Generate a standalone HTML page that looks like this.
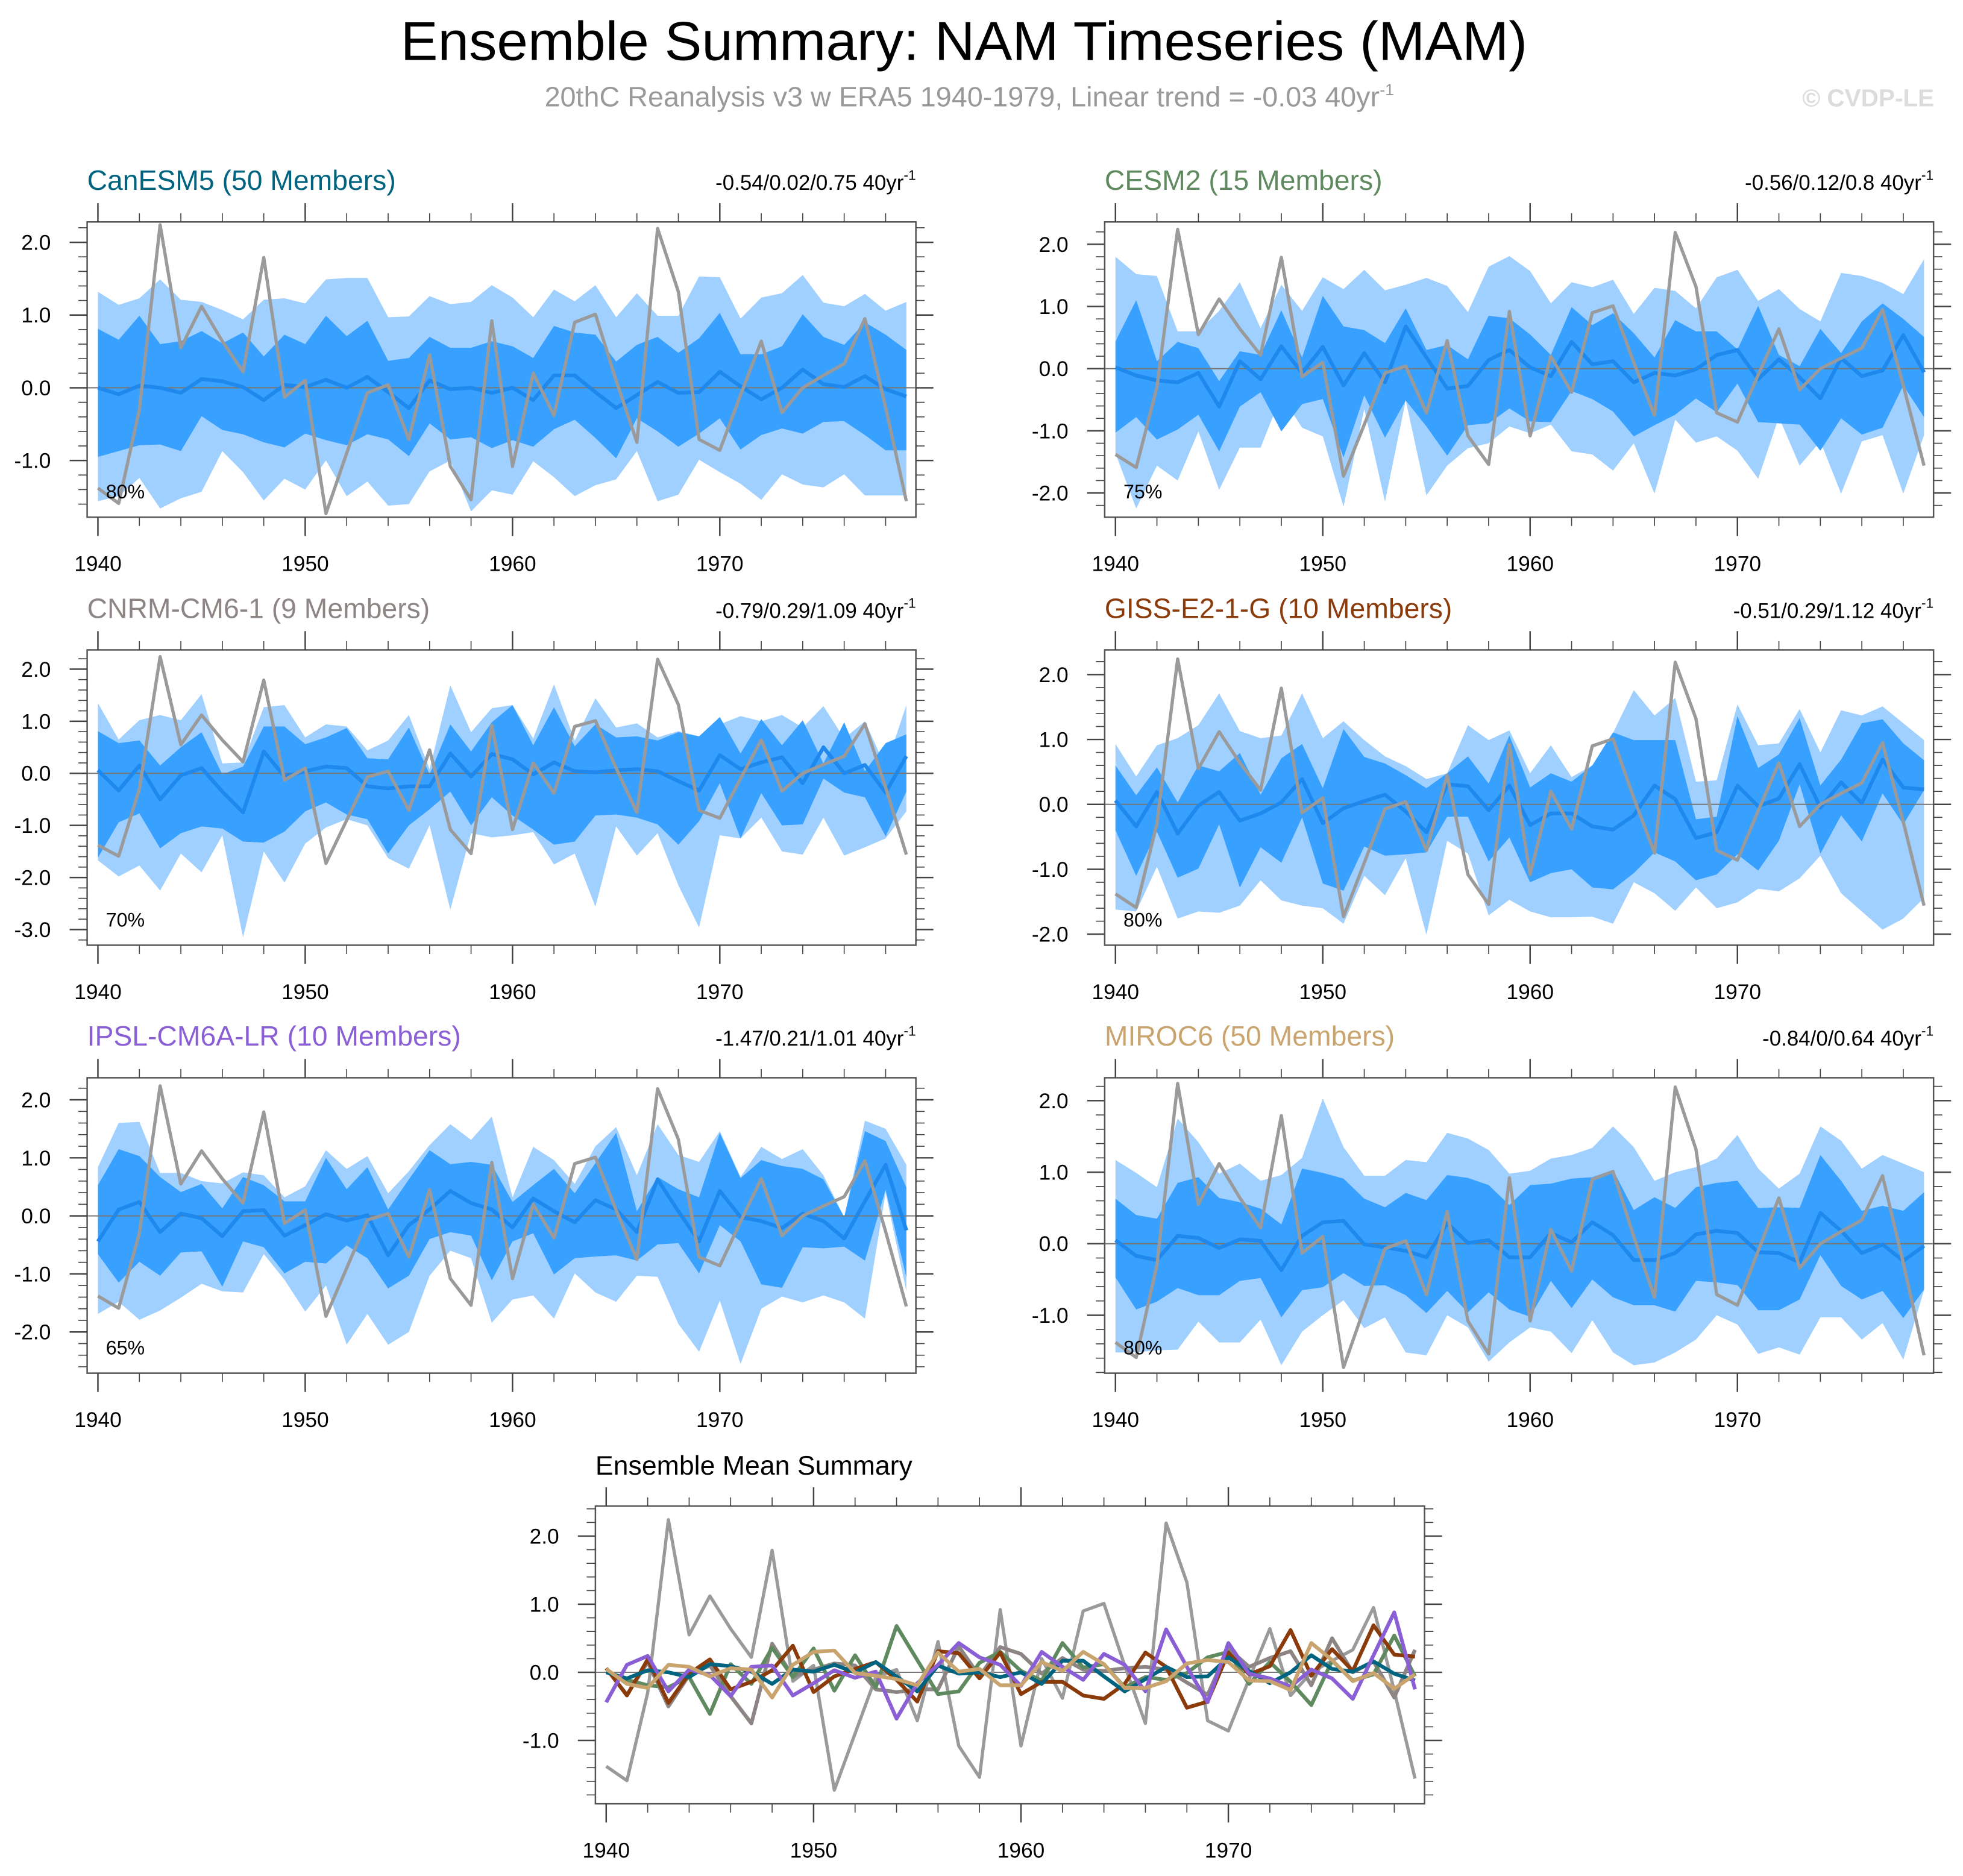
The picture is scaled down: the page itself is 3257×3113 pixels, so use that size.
<!DOCTYPE html>
<html><head><meta charset="utf-8"><title>Ensemble Summary: NAM Timeseries (MAM)</title>
<style>
html,body{margin:0;padding:0;background:#fff;}
svg{display:block;font-family:"Liberation Sans",Arial,sans-serif;}
</style></head>
<body>
<svg id="fig" xmlns="http://www.w3.org/2000/svg" width="3257" height="3113" viewBox="0 0 1568 1498.7">
<rect x="0" y="0" width="1568" height="1498.7" fill="#fff"/>
<text x="770" y="48" font-size="44" text-anchor="middle" fill="#000" textLength="900" lengthAdjust="spacingAndGlyphs">Ensemble Summary: NAM Timeseries (MAM)</text>
<text x="435" y="85" font-size="22.5" fill="#999">20thC Reanalysis v3 w ERA5 1940-1979, Linear trend = -0.03 40yr<tspan dy="-9" font-size="13">-1</tspan></text>
<text x="1545" y="85" font-size="19.5" font-weight="bold" text-anchor="end" fill="#dcdcdc">© CVDP-LE</text>
</svg>
<script>
const years = [];
for (let i = 0; i < 40; i++) years.push(1940 + i);
const obs = [-1.38,-1.59,-0.30,2.24,0.55,1.12,0.64,0.22,1.79,-0.13,0.10,-1.73,-0.9,-0.07,0.04,-0.71,0.45,-1.08,-1.54,0.92,-1.08,0.20,-0.38,0.90,1.01,0.1,-0.75,2.19,1.32,-0.71,-0.86,-0.1,0.64,-0.34,0.0,0.17,0.33,0.95,-0.27,-1.56];

const canMean = [0,-0.09,0.03,0,-0.07,0.12,0.09,0.01,-0.17,0.04,0.01,0.11,0,0.15,-0.06,-0.28,0.10,-0.02,0,-0.07,0,-0.17,0.17,0.17,-0.06,-0.28,-0.1,0.08,-0.07,-0.06,0.22,0.02,-0.16,0,0.25,0.05,0.01,0.16,-0.02,-0.12];
const canHi2 = [1.32,1.14,1.23,1.49,1.21,1.18,1.07,0.94,1.21,1.23,1.16,1.49,1.51,1.51,0.97,0.98,1.26,1.15,1.18,1.41,1.24,0.97,1.35,1.19,1.41,0.97,1.30,0.99,0.99,1.53,1.52,0.95,1.24,1.30,1.55,1.17,1.12,1.29,1.06,1.18];
const canHi1 = [0.81,0.66,0.99,0.60,0.64,0.78,0.61,0.76,0.43,0.73,0.60,0.99,0.71,0.92,0.37,0.41,0.70,0.55,0.55,0.64,0.57,0.41,0.85,0.76,0.73,0.36,0.59,0.70,0.48,0.68,1.03,0.46,0.46,0.57,1.01,0.70,0.59,0.90,0.73,0.52];
const canLo1 = [-0.95,-0.87,-0.79,-0.78,-0.87,-0.39,-0.58,-0.64,-0.75,-0.82,-0.63,-0.72,-0.79,-0.64,-0.71,-0.94,-0.49,-0.71,-0.68,-0.83,-0.72,-0.81,-0.57,-0.44,-0.69,-0.97,-0.42,-0.60,-0.81,-0.63,-0.42,-0.85,-0.65,-0.56,-0.63,-0.47,-0.46,-0.65,-0.86,-0.86];
const canLo2 = [-1.56,-1.49,-1.24,-1.66,-1.52,-1.43,-0.87,-1.16,-1.55,-1.25,-1.40,-1.0,-1.49,-1.29,-1.62,-1.60,-1.15,-1.0,-1.70,-1.41,-1.47,-1.01,-1.23,-1.49,-1.34,-1.26,-0.87,-1.56,-1.47,-0.99,-1.16,-1.32,-1.54,-1.19,-1.33,-1.37,-1.19,-1.48,-1.48,-1.48];

const cesmMean = [0.02,-0.11,-0.19,-0.22,-0.07,-0.61,0.12,-0.17,0.36,-0.07,0.35,-0.27,0.25,-0.22,0.68,0.18,-0.32,-0.28,0.14,0.30,0.02,-0.12,0.43,0.07,0.12,-0.22,-0.07,-0.11,-0.01,0.22,0.30,-0.17,0.15,-0.14,-0.48,0.17,-0.12,-0.03,0.54,-0.06];
const cesmHi2 = [1.80,1.52,1.49,0.60,0.60,0.93,1.39,0.65,1.35,0.93,1.47,1.28,1.59,1.26,1.35,1.46,1.33,0.91,1.64,1.81,1.57,1.05,1.39,1.31,1.43,0.88,1.30,1.25,0.97,1.47,1.59,1.09,1.28,0.96,0.76,1.54,1.49,1.38,1.20,1.76];
const cesmHi1 = [0.44,1.10,0.12,0.43,0.33,-0.20,0.28,0.22,0.94,0.18,1.17,0.68,0.62,0.41,0.97,0.30,0.38,0.15,0.85,0.81,0.55,0.22,0.99,0.70,0.89,0.57,0.18,0.78,0.60,0.60,0.31,1.01,0.22,0.04,0.64,0.25,0.76,1.05,0.80,0.51];
const cesmLo1 = [-1.03,-0.78,-1.14,-0.98,-0.74,-1.33,-0.61,-0.38,-1.01,-0.57,-0.49,-1.43,-0.43,-1.11,-0.51,-0.93,-1.40,-0.91,-0.88,-0.64,-0.85,-0.86,-0.36,-0.49,-0.69,-1.09,-0.91,-0.74,-0.48,-0.70,-0.24,-0.86,-0.88,-0.90,-1.32,-0.80,-1.06,-0.95,-0.27,-0.78];
const cesmLo2 = [-1.36,-2.25,-1.56,-1.80,-1.01,-1.95,-1.27,-1.27,-0.43,-0.95,-1.09,-2.22,-0.65,-2.14,-0.51,-2.04,-1.56,-1.28,-1.20,-0.93,-1.04,-0.90,-1.33,-1.38,-1.64,-1.20,-2.01,-0.82,-1.19,-1.09,-1.32,-1.77,-0.78,-1.56,-1.17,-2.01,-1.17,-1.07,-2.01,-1.07];

const cnrmMean = [0.06,-0.33,0.15,-0.5,-0.04,0.10,-0.35,-0.75,0.42,-0.06,0.04,0.13,0.10,-0.25,-0.29,-0.25,-0.25,0.38,-0.06,0.37,0.27,-0.02,0.21,0.04,0.02,0.06,0.08,0.04,-0.15,-0.33,0.35,0.08,0.21,0.31,-0.19,0.50,0,0.16,-0.37,0.33];
const cnrmHi2 = [1.35,0.65,1.02,1.12,1.02,1.52,0.19,0.21,1.27,1.31,0.69,0.94,0.90,0.44,0.63,1.12,0.08,1.69,0.79,1.25,1.31,0.67,1.71,0.63,1.44,0.88,0.96,0.69,0.81,0.71,0.94,1.10,1.0,1.12,0.88,1.29,0.67,1.0,0.12,1.31];
const cnrmHi1 = [0.81,0.58,0.63,0.15,0.50,0.79,-0.02,0.13,0.90,0.90,0.56,0.69,0.87,0.29,0.27,0.88,-0.02,0.94,0.42,0.98,1.31,0.54,1.27,0.52,0.94,0.69,0.71,0.63,0.79,0.71,1.08,0.38,1.04,0.54,1.02,0.19,0.98,0.04,0.58,0.75];
const cnrmLo1 = [-1.62,-0.94,-0.77,-1.44,-1.15,-1.02,-1.06,-1.31,-1.33,-1.12,-0.73,-0.56,-0.79,-0.88,-1.54,-1.0,-0.69,-0.35,-1.0,-0.46,-0.81,-1.08,-1.37,-1.31,-0.81,-0.79,-0.85,-0.98,-1.37,-0.92,-0.19,-1.25,-0.38,-1.0,-0.98,-0.10,-0.37,-0.46,-1.21,-0.35];
const cnrmLo2 = [-1.67,-1.98,-1.77,-2.25,-1.54,-1.90,-1.19,-3.15,-1.50,-2.10,-1.35,-1.04,-0.88,-1.0,-1.63,-1.83,-1.0,-2.62,-1.15,-1.23,-1.19,-1.13,-1.75,-1.54,-2.56,-1.02,-1.58,-1.15,-2.15,-2.96,-1.19,-1.25,-0.85,-1.50,-1.56,-0.85,-1.58,-1.42,-1.25,-0.73];

const gissMean = [0.06,-0.34,0.19,-0.45,-0.02,0.19,-0.25,-0.14,0.03,0.39,-0.29,-0.06,0.05,0.15,-0.11,-0.43,0.31,0.28,-0.09,0.29,-0.32,-0.14,-0.14,-0.34,-0.39,-0.17,0.29,0.08,-0.52,-0.43,0.29,-0.03,0.09,0.62,-0.05,0.34,0.02,0.69,0.26,0.23];
const gissHi2 = [0.93,0.43,0.91,1.02,1.22,1.71,1.13,1.02,1.06,1.71,1.02,1.28,0.99,0.74,0.59,0.39,0.48,1.22,0.99,1.14,0.48,0.91,0.42,0.60,1.10,1.76,1.37,1.64,0.35,0.37,1.54,0.91,0.94,1.47,0.80,1.45,1.37,1.51,1.25,0.99];
const gissHi1 = [0.60,0.14,0.57,0.03,0.60,0.51,0.79,0.15,0.71,0.93,0.25,1.16,0.73,0.63,0.45,0.25,0.48,0.74,0.32,1.06,0.26,0.48,0.35,0.60,1.11,0.99,0.99,0.99,-0.23,-0.19,1.36,0.56,0.77,1.33,0.29,0.69,1.25,1.31,0.94,0.68];
const gissLo1 = [-0.40,-1.10,-0.42,-1.13,-0.99,-0.31,-1.28,-0.66,-0.90,-0.20,-1.22,-1.33,-0.65,-0.79,-0.77,-0.74,-0.19,-0.19,-0.88,-0.51,-1.20,-1.06,-1.0,-1.28,-1.31,-1.06,-0.74,-0.88,-1.17,-1.08,-0.77,-1.02,-0.56,0.31,-0.76,-0.17,-0.57,0.17,-0.31,0.22];
const gissLo2 = [-1.62,-1.65,-0.96,-1.76,-1.65,-1.67,-1.56,-1.17,-1.48,-1.56,-1.60,-1.84,-1.10,-1.40,-0.83,-2.01,-0.56,-0.76,-1.71,-1.47,-1.65,-1.74,-1.74,-1.73,-1.84,-1.20,-1.37,-1.64,-1.28,-1.60,-1.51,-1.30,-1.34,-1.14,-0.79,-1.37,-1.65,-1.93,-1.76,-1.44];

const ipslMean = [-0.44,0.11,0.24,-0.28,0.04,-0.04,-0.35,0.08,0.10,-0.34,-0.16,0.03,-0.08,0.01,-0.68,-0.16,0.11,0.43,0.22,0.11,-0.2,0.30,0.08,-0.11,0.27,0.11,-0.28,0.63,0.08,-0.44,0.43,-0.02,-0.09,-0.21,0.04,-0.09,-0.39,0.25,0.88,-0.25];
const ipslHi2 = [0.84,1.60,1.62,0.74,0.74,0.60,0.56,0.75,0.70,0.32,0.51,1.13,0.81,1.03,0.39,0.77,1.22,1.58,1.31,1.71,0.32,1.19,0.96,0.55,1.20,1.53,0.70,1.58,1.05,0.93,1.46,0.67,1.19,0.98,1.15,0.70,-0.02,1.64,1.50,0.88];
const ipslHi1 = [0.53,1.15,1.03,0.67,0.41,0.55,0.13,0.67,0.53,0.25,0.25,1.0,0.46,0.84,0.11,0.63,1.13,0.89,0.93,0.88,0.24,0.53,0.81,0.39,0.91,1.43,0.08,0.67,0.46,0.32,1.43,0.65,0.96,0.86,0.81,0.63,-0.02,1.46,1.29,0.49];
const ipslLo1 = [-0.66,-1.15,-0.79,-1.03,-0.63,-0.61,-1.22,-0.44,-0.54,-0.99,-0.79,-0.82,-0.51,-0.73,-1.25,-1.03,-0.40,-0.28,-0.34,-1.11,-0.44,-0.30,-1.01,-0.73,-0.70,-0.68,-0.77,-0.49,-0.47,-0.99,-0.16,-0.44,-1.18,-1.24,-0.54,-0.56,-0.53,-0.77,0.45,-1.06];
const ipslLo2 = [-1.69,-1.48,-1.79,-1.63,-1.41,-1.17,-1.30,-1.32,-0.66,-1.10,-1.65,-1.20,-2.22,-1.69,-2.22,-2.0,-1.03,-0.60,-0.73,-1.84,-1.44,-1.37,-1.77,-0.99,-1.32,-1.48,-1.03,-1.05,-1.86,-2.34,-1.46,-2.55,-1.60,-1.39,-1.49,-1.37,-1.49,-1.77,0.40,-1.30];

const mirocMean = [0.05,-0.17,-0.23,0.11,0.08,-0.06,0.06,0.04,-0.37,0.11,0.30,0.32,-0.01,-0.05,-0.10,-0.19,0.29,0.01,0.05,-0.19,-0.19,0.15,0.02,0.30,0.12,-0.23,-0.23,-0.13,0.13,0.18,0.15,-0.12,-0.13,-0.26,0.43,0.18,-0.13,-0.01,-0.24,-0.03];
const mirocHi2 = [1.17,0.99,0.79,1.75,1.42,0.98,1.12,0.88,0.96,1.20,2.03,1.35,0.95,0.95,1.17,1.14,1.55,1.47,1.31,0.98,1.02,1.19,1.24,1.34,1.64,1.35,0.88,1.0,1.07,1.19,1.52,1.05,0.77,0.98,1.64,1.44,1.05,1.24,1.12,1.0];
const mirocHi1 = [0.63,0.40,0.35,0.85,0.93,0.64,0.58,0.49,0.27,1.05,0.99,0.91,0.63,0.51,0.71,0.61,0.96,0.92,0.82,0.54,0.82,0.84,0.91,0.93,1.03,0.47,0.65,0.50,0.79,0.85,0.88,0.50,0.51,0.50,1.24,0.88,0.46,0.53,0.46,0.72];
const mirocLo1 = [-0.47,-0.92,-0.81,-0.62,-0.72,-0.72,-0.52,-0.48,-1.03,-0.65,-0.61,-0.41,-0.59,-0.58,-0.72,-0.97,-0.66,-0.96,-0.68,-0.92,-1.02,-0.52,-0.90,-0.50,-0.75,-0.86,-0.86,-0.95,-0.52,-0.54,-0.58,-0.93,-0.93,-0.78,-0.16,-0.59,-0.78,-0.66,-1.04,-0.64];
const mirocLo2 = [-1.52,-1.52,-1.49,-1.48,-1.09,-1.38,-1.38,-1.06,-1.70,-1.23,-1.00,-0.79,-1.18,-1.03,-1.52,-1.56,-1.00,-1.17,-1.65,-1.38,-1.17,-1.23,-1.53,-1.07,-1.52,-1.70,-1.66,-1.52,-1.34,-1.00,-1.13,-1.54,-1.45,-1.55,-1.03,-1.03,-1.34,-1.11,-1.62,-0.65];

const modelNames = ["CanESM5 (50 Members)","CESM2 (15 Members)","CNRM-CM6-1 (9 Members)","GISS-E2-1-G (10 Members)","IPSL-CM6A-LR (10 Members)","MIROC6 (50 Members)"];
const trendLabels = ["-0.54/0.02/0.75 40yr","-0.56/0.12/0.8 40yr","-0.79/0.29/1.09 40yr","-0.51/0.29/1.12 40yr","-1.47/0.21/1.01 40yr","-0.84/0/0.64 40yr"];
const pctLabels = ["80%","75%","70%","80%","65%","80%"];
const xTickYears = [1940,1950,1960,1970];

const NS = "http://www.w3.org/2000/svg";
const svg = document.getElementById("fig");
function mk(tag, attrs, parent) {
  const e = document.createElementNS(NS, tag);
  for (const k in attrs) e.setAttribute(k, attrs[k]);
  (parent || svg).appendChild(e);
  return e;
}
const colors = ["#00637f","#5f8a5f","#8c8584","#8b3a0a","#8a5fd6","#c9a46e"];
const panels = [
  {box:[69.6,731.6,177.3,413.2], vmax:2.28, vmin:-1.78, mean:canMean, hi2:canHi2, hi1:canHi1, lo1:canLo1, lo2:canLo2},
  {box:[882.4,1544.5,177.3,413.2], vmax:2.36, vmin:-2.39, mean:cesmMean, hi2:cesmHi2, hi1:cesmHi1, lo1:cesmLo1, lo2:cesmLo2},
  {box:[69.6,731.6,519.2,755.1], vmax:2.37, vmin:-3.30, mean:cnrmMean, hi2:cnrmHi2, hi1:cnrmHi1, lo1:cnrmLo1, lo2:cnrmLo2},
  {box:[882.4,1544.5,519.2,755.1], vmax:2.38, vmin:-2.17, mean:gissMean, hi2:gissHi2, hi1:gissHi1, lo1:gissLo1, lo2:gissLo2},
  {box:[69.6,731.6,861,1097], vmax:2.38, vmin:-2.71, mean:ipslMean, hi2:ipslHi2, hi1:ipslHi1, lo1:ipslLo1, lo2:ipslLo2},
  {box:[882.4,1544.5,861,1097], vmax:2.32, vmin:-1.81, mean:mirocMean, hi2:mirocHi2, hi1:mirocHi1, lo1:mirocLo1, lo2:mirocLo2}
];

function axes(p) {
  const [x0,x1,y0,y1] = p.box;
  const xs = yr => x0 + (yr - 1940 + 0.52) * (x1 - x0) / 39.98;
  const ys = v => y0 + (p.vmax - v) * (y1 - y0) / (p.vmax - p.vmin);
  return {xs, ys, x0, x1, y0, y1};
}

function drawFrame(g, A, p) {
  const {xs, ys, x0, x1, y0, y1} = A;
  const vStart = Math.ceil(p.vmin * 5), vEnd = Math.floor(p.vmax * 5);
  for (let k = vStart; k <= vEnd; k++) {
    const v = k / 5, y = ys(v), major = (k % 5 === 0), L = major ? 14 : 7;
    mk("line", {x1:x0-L, x2:x0, y1:y, y2:y, stroke:"#444", "stroke-width":major?1.2:0.8}, g);
    mk("line", {x1:x1, x2:x1+L, y1:y, y2:y, stroke:"#444", "stroke-width":major?1.2:0.8}, g);
    if (major) {
      const t = mk("text", {x:x0-29, y:y+6, "font-size":17, "text-anchor":"end", fill:"#000"}, g);
      
      
      t.textContent = v.toFixed(1);
    }
  }
  for (let yr = 1940; yr <= 1979; yr += 2) {
    const x = xs(yr), major = (yr % 10 === 0), L = major ? 15 : 7;
    mk("line", {x1:x, x2:x, y1:y1, y2:y1+L, stroke:"#444", "stroke-width":major?1.2:0.8}, g);
    mk("line", {x1:x, x2:x, y1:y0-L, y2:y0, stroke:"#444", "stroke-width":major?1.2:0.8}, g);
  }
  xTickYears.forEach(yr => {
    const t = mk("text", {x:xs(yr), y:y1+43, "font-size":17, "text-anchor":"middle", fill:"#000"}, g);
    
    
    t.textContent = yr;
  });
}

function linePath(arr, A) {
  return arr.map((v,i) => (i ? "L" : "M") + A.xs(years[i]).toFixed(2) + "," + A.ys(v).toFixed(2)).join(" ");
}
function bandPath(hi, lo, A) {
  let d = hi.map((v,i) => (i ? "L" : "M") + A.xs(years[i]).toFixed(2) + "," + A.ys(v).toFixed(2)).join(" ");
  for (let i = lo.length - 1; i >= 0; i--) d += " L" + A.xs(years[i]).toFixed(2) + "," + A.ys(lo[i]).toFixed(2);
  return d + " Z";
}

panels.forEach((p, idx) => {
  const A = axes(p);
  const g = mk("g", {});
  
  
  const cid = "clip" + idx;
  const cp = mk("clipPath", {id:cid}, g);
  mk("rect", {x:A.x0, y:A.y0, width:A.x1-A.x0, height:A.y1-A.y0}, cp);
  const pg = mk("g", {"clip-path":"url(#"+cid+")"}, g);
  const b2 = mk("path", {d:bandPath(p.hi2, p.lo2, A), fill:"#a0d0ff"}, pg);
  
  
  const b1 = mk("path", {d:bandPath(p.hi1, p.lo1, A), fill:"#38a0ff"}, pg);
  
  
  mk("line", {x1:A.x0, x2:A.x1, y1:A.ys(0), y2:A.ys(0), stroke:"#777", "stroke-width":1}, pg);
  const ml = mk("path", {d:linePath(p.mean, A), fill:"none", stroke:"#1e88ec", "stroke-width":3, "stroke-linejoin":"round"}, pg);
  
  
  const ol = mk("path", {d:linePath(obs, A), fill:"none", stroke:"#9a9a9a", "stroke-width":2.6, "stroke-linejoin":"round"}, pg);
  
  
  const fr = mk("rect", {x:A.x0, y:A.y0, width:A.x1-A.x0, height:A.y1-A.y0, fill:"none", stroke:"#555", "stroke-width":1.2}, g);
  
  
  drawFrame(g, A, p);
  const tt = mk("text", {x:A.x0, y:A.y0-25.6, "font-size":22.3, fill:colors[idx]}, g);
  
  
  tt.textContent = modelNames[idx];
  const tr = mk("text", {x:A.x1, y:A.y0-25.6, "font-size":16.8, "text-anchor":"end", fill:"#000"}, g);
  
  
  tr.appendChild(document.createTextNode(trendLabels[idx]));
  const sup = mk("tspan", {dy:-8, "font-size":11}, tr);
  sup.textContent = "-1";
  const pc = mk("text", {x:A.x0+15, y:A.y1-15, "font-size":15.5, fill:"#000"}, g);
  
  
  pc.textContent = pctLabels[idx];
});

const bp = {box:[475.6,1137.9,1203.2,1441], vmax:2.44, vmin:-1.93};
const BA = axes(bp);
const bg = mk("g", {});


const bcp = mk("clipPath", {id:"clipB"}, bg);
mk("rect", {x:BA.x0, y:BA.y0, width:BA.x1-BA.x0, height:BA.y1-BA.y0}, bcp);
const bpg = mk("g", {"clip-path":"url(#clipB)"}, bg);
mk("line", {x1:BA.x0, x2:BA.x1, y1:BA.ys(0), y2:BA.ys(0), stroke:"#777", "stroke-width":1}, bpg);
const bobs = mk("path", {d:linePath(obs, BA), fill:"none", stroke:"#9a9a9a", "stroke-width":2.6, "stroke-linejoin":"round"}, bpg);


const meanSeries = [canMean, cesmMean, cnrmMean, gissMean, ipslMean, mirocMean];
const drawOrder = [2, 1, 3, 0, 4, 5];
drawOrder.forEach(k => {
  const l = mk("path", {d:linePath(meanSeries[k], BA), fill:"none", stroke:colors[k], "stroke-width":3, "stroke-linejoin":"round"}, bpg);
  
  
});
const bfr = mk("rect", {x:BA.x0, y:BA.y0, width:BA.x1-BA.x0, height:BA.y1-BA.y0, fill:"none", stroke:"#555", "stroke-width":1.2}, bg);


drawFrame(bg, BA, bp);
const bt = mk("text", {x:BA.x0, y:1178, "font-size":21.5, fill:"#000"}, bg);


bt.textContent = "Ensemble Mean Summary";
</script>
</body></html>
